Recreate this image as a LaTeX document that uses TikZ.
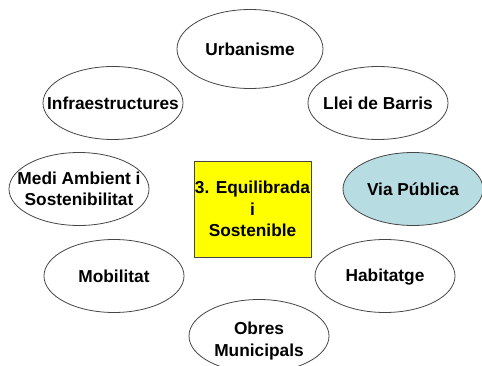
\documentclass[tikz,border=0pt]{standalone}
\usepackage{fontspec}
\setmainfont{Liberation Sans}
\usetikzlibrary{shapes.geometric}
\definecolor{edgegray}{RGB}{70,70,70}
\definecolor{viablue}{RGB}{183,221,226}
\definecolor{boxyellow}{RGB}{255,255,0}
\tikzset{
  topic/.style={ellipse, draw=edgegray, line width=0.8pt, fill=white, inner sep=0pt,
    minimum width=140pt, minimum height=73pt},
  label text/.style={inner sep=0pt, align=center,
    font=\fontsize{17.3pt}{21.5pt}\selectfont\bfseries},
  centerbox/.style={rectangle, draw=edgegray, line width=0.8pt, fill=boxyellow, inner sep=0pt,
    minimum width=117pt, minimum height=96pt}
}
\begin{document}
\begin{tikzpicture}[x=1pt,y=-1pt]
\useasboundingbox (0,0) rectangle (482,366);
\clip (0,0) rectangle (482,366);
\fill[white] (0,0) rectangle (482,366);
\node[topic, minimum width=146pt, minimum height=79pt] (urb) at (250,49) {};
\node[label text] (urbt) at (urb.center) {Urbanisme};
\node[topic] (inf) at (113,103) {};
\node[label text] (inft) at (inf.center) {Infraestructures};
\node[topic] (llei) at (378,103) {};
\node[label text] (lleit) at (llei.center) {Llei de Barris};
\node[topic] (medi) at (79,189) {};
\node[label text] (medit) at (medi.center) {Medi Ambient i\\Sostenibilitat};
\node[centerbox] (eq) at (252.5,209) {};
\node[label text] (eqt) at (eq.center) {3. Equilibrada\\i\\Sostenible};
\node[topic, fill=viablue] (via) at (413,189) {};
\node[label text] (viat) at (via.center) {Via Pública};
\node[topic] (mob) at (114,276) {};
\node[label text] (mobt) at (mob.center) {Mobilitat};
\node[topic] (hab) at (385,276) {};
\node[label text] (habt) at ([yshift=-1.5pt]hab.center) {Habitatge};
\node[topic] (obr) at (259,336) {};
\node[label text] (obrt) at ([yshift=-5pt]obr.center) {Obres\\Municipals};
\end{tikzpicture}
\end{document}
